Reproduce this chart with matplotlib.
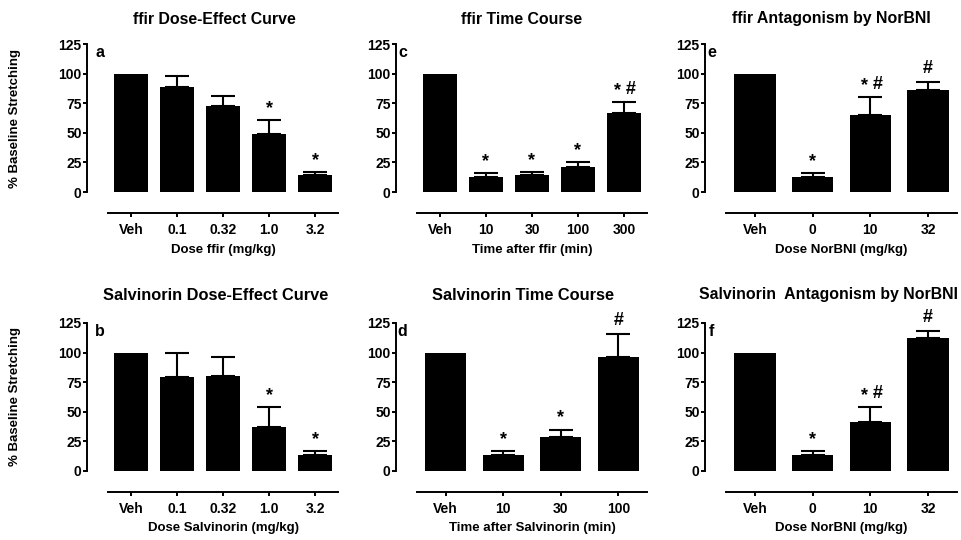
import matplotlib
matplotlib.use("Agg")
import matplotlib.pyplot as plt
import numpy as np

plt.rcParams['font.family'] = ['Liberation Sans', 'DejaVu Sans']
plt.rcParams['font.weight'] = 'bold'

# ---------------- data ----------------
a_title = "ffir Dose-Effect Curve"
a_xlabel = "Dose ffir (mg/kg)"
a_labels = ['Veh', '0.1', '0.32', '1.0', '3.2']
a_means = [100, 88.5, 73, 49, 14]
a_errs = [0, 9.5, 8.5, 12, 2.5]
a_marks = ['', '', '', '*', '*']

c_title = "ffir Time Course"
c_xlabel = "Time after ffir (min)"
c_labels = ['Veh', '10', '30', '100', '300']
c_means = [100, 13, 14, 21, 67]
c_errs = [0, 3.3, 2.6, 4.4, 8.6]
c_marks = ['', '*', '*', '*', '*#']

e_title = "ffir Antagonism by NorBNI"
e_xlabel = "Dose NorBNI (mg/kg)"
e_labels = ['Veh', '0', '10', '32']
e_means = [100, 12.5, 65, 86]
e_errs = [0, 3.7, 15, 7]
e_marks = ['', '*', '*#', '#']

b_title = "Salvinorin Dose-Effect Curve"
b_xlabel = "Dose Salvinorin (mg/kg)"
b_labels = ['Veh', '0.1', '0.32', '1.0', '3.2']
b_means = [100, 79, 80, 37, 13.5]
b_errs = [0, 20.5, 16, 17, 3.2]
b_marks = ['', '', '', '*', '*']

d_title = "Salvinorin Time Course"
d_xlabel = "Time after Salvinorin (min)"
d_labels = ['Veh', '10', '30', '100']
d_means = [100, 13.5, 28.5, 96.5]
d_errs = [0, 3.5, 6.5, 19.5]
d_marks = ['', '*', '*', '#']

f_title = "Salvinorin  Antagonism by NorBNI"
f_xlabel = "Dose NorBNI (mg/kg)"
f_labels = ['Veh', '0', '10', '32']
f_means = [100, 13.5, 41.5, 112]
f_errs = [0, 3.5, 12.5, 6.5]
f_marks = ['', '*', '*#', '#']

y_ticks = [0, 25, 50, 75, 100, 125]
y_label = "% Baseline Stretching"

# ---------------- layout ----------------
W, H = 962, 540
fig = plt.figure(figsize=(W / 100, H / 100), dpi=100)


def px_box(x0, x1, ytop, ybot):
    return [x0 / W, 1 - ybot / H, (x1 - x0) / W, (ybot - ytop) / H]


panels = [
    ('a', a_title, a_xlabel, a_labels, a_means, a_errs, a_marks, (108, 338, 44, 192), (214, 19, 'center', 11.4), (95, 57)),
    ('c', c_title, c_xlabel, c_labels, c_means, c_errs, c_marks, (417, 647, 44, 192), (522, 19, 'center', 11.4), (398, 57)),
    ('e', e_title, e_xlabel, e_labels, e_means, e_errs, e_marks, (726, 957, 44, 192), (831, 19, 'center', 11.4), (707, 57)),
    ('b', b_title, b_xlabel, b_labels, b_means, b_errs, b_marks, (108, 338, 323, 471), (216, 295, 'center', 11.8), (95, 336)),
    ('d', d_title, d_xlabel, d_labels, d_means, d_errs, d_marks, (417, 647, 323, 471), (523, 295, 'center', 11.8), (397, 336)),
    ('f', f_title, f_xlabel, f_labels, f_means, f_errs, f_marks, (726, 957, 323, 471), (699, 295, 'left', 11.4), (709, 336)),
]

for letter, title, xlabel, labels, means, errs, marks, box, tpos, lpos in panels:
    ax = fig.add_axes(px_box(*box))
    n = len(labels)
    x = np.arange(n)
    ax.bar(x, means, width=0.72, color='black', edgecolor='black', linewidth=0)
    idx = [i for i in range(n) if errs[i] > 0]
    ax.errorbar(x[idx], np.array(means)[idx],
                yerr=[np.zeros(len(idx)), np.array(errs)[idx]],
                fmt='none', ecolor='black', elinewidth=1.5, capsize=8.5, capthick=1.5)
    for i in range(n):
        m = marks[i]
        if not m:
            continue
        top = means[i] + errs[i]
        both = len(m) > 1
        for ch in m:
            dx = 0
            if both:
                dx = -4.5 if ch == '*' else 5
            dy = 8.3 if ch == '*' else 9.5
            ax.annotate(ch, (x[i], top), xytext=(dx, dy),
                        textcoords='offset points', ha='center', va='center',
                        fontsize=13, fontweight='bold')
    ax.set_xlim(-0.5, n - 0.5)
    ax.set_ylim(0, 125)
    ax.set_yticks(y_ticks)
    ax.set_xticks(x)
    ax.set_xticklabels(labels, fontsize=9, fontweight='bold')
    ax.set_yticklabels([str(t) for t in y_ticks], fontsize=8, fontweight='bold')
    for s in ['top', 'right']:
        ax.spines[s].set_visible(False)
    ax.spines['left'].set_position(('outward', 15))
    ax.spines['bottom'].set_position(('outward', 15))
    ax.spines['left'].set_linewidth(1.4)
    ax.spines['bottom'].set_linewidth(1.4)
    ax.tick_params(axis='y', length=3, width=1.4, pad=1)
    ax.tick_params(axis='x', length=3, width=1.4, pad=4)
    ax.set_xlabel(xlabel, fontsize=9.5, fontweight='bold', labelpad=5)
    ax.patch.set_visible(False)
    fig.text(tpos[0] / W, 1 - tpos[1] / H, title, ha=tpos[2], va='center',
             fontsize=tpos[3], fontweight='bold')
    fig.text(lpos[0] / W, 1 - lpos[1] / H, letter, ha='left', va='baseline',
             fontsize=11.5, fontweight='bold')

fig.text(15 / W, 1 - 118 / H, y_label, rotation=90, ha='center', va='center',
         fontsize=9.5, fontweight='bold')
fig.text(15 / W, 1 - 397 / H, y_label, rotation=90, ha='center', va='center',
         fontsize=9.5, fontweight='bold')

fig.savefig('out.png', dpi=100)
